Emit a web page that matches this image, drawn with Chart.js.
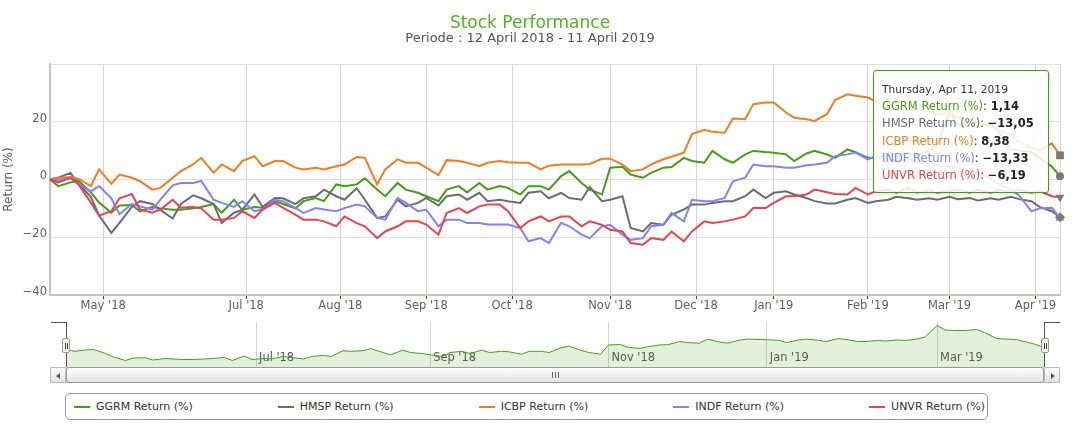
<!DOCTYPE html>
<html>
<head>
<meta charset="utf-8">
<script src="https://cdn.jsdelivr.net/npm/chart.js@4.4.1/dist/chart.umd.min.js"></script>
<style>
html,body{margin:0;padding:0;background:#fff;}
#wrap{position:relative;width:1085px;height:427px;overflow:hidden;font-family:"DejaVu Sans",Verdana,sans-serif;}
#main{position:absolute;left:0;top:0;}
#nav{position:absolute;left:66px;top:322px;}
.abs{position:absolute;}
#tip{position:absolute;display:none;box-sizing:border-box;width:176px;height:123px;background:rgba(255,255,255,0.86);border:1px solid #43a013;border-radius:3px;padding:10px 0 0 8px;color:#333;pointer-events:none;box-shadow:1px 1px 3px rgba(0,0,0,0.12);}
#tip .th{font-size:10.7px;line-height:17px;height:17px;white-space:nowrap;}
#tip .tl{font-size:11.5px;line-height:17.3px;height:17.3px;white-space:nowrap;}
#tip b{color:#222;}
.handle{position:absolute;width:8px;height:15px;background:#f2f2f2;border:1px solid #999;border-radius:2px;box-sizing:border-box;}
.handle:before,.handle:after{content:"";position:absolute;top:4px;width:1px;height:6px;background:#444;}
.handle:before{left:2px;}
.handle:after{left:4px;}
.sbtn{position:absolute;top:367px;width:16px;height:16px;box-sizing:border-box;border:1px solid #bbb;border-radius:2px;background:linear-gradient(#fdfdfd,#e2e2e2);}
.arrowL{position:absolute;left:5px;top:5px;width:0;height:0;border-top:3px solid transparent;border-bottom:3px solid transparent;border-right:4px solid #555;}
.arrowR{position:absolute;left:6px;top:5px;width:0;height:0;border-top:3px solid transparent;border-bottom:3px solid transparent;border-left:4px solid #555;}
#legend{position:absolute;left:65px;top:393px;width:923px;height:27px;box-sizing:border-box;border:1px solid #999;border-radius:5px;display:flex;align-items:center;padding-left:8px;}
.li{display:flex;align-items:center;margin-right:85px;font-size:11px;color:#333;white-space:nowrap;}
.ls{width:16px;height:2px;margin-right:6px;}
</style>
</head>
<body>
<div id="wrap">
  <canvas id="main" width="1085" height="318"></canvas>
  <canvas id="nav" width="978" height="45"></canvas>
  <!-- navigator outline -->
  <div class="abs" style="left:51px;top:322px;width:16px;height:1px;background:#555;"></div>
  <div class="abs" style="left:66px;top:322px;width:1px;height:45px;background:#555;"></div>
  <div class="abs" style="left:1044px;top:322px;width:1px;height:45px;background:#555;"></div>
  <div class="abs" style="left:1044px;top:322px;width:16px;height:1px;background:#555;"></div>
  <div class="handle" style="left:62px;top:338px;"></div>
  <div class="handle" style="left:1041px;top:338px;"></div>
  <!-- scrollbar -->
  <div class="abs" style="left:50px;top:367px;width:1010px;height:16px;box-sizing:border-box;border:1px solid #ccc;background:#f2f2f2;"></div>
  <div class="abs" style="left:66px;top:367px;width:978px;height:16px;box-sizing:border-box;border:1px solid #999;border-radius:3px;background:linear-gradient(#fefefe,#e4e4e4);"></div>
  <div class="abs" style="left:552px;top:372px;width:1px;height:6px;background:#666;"></div>
  <div class="abs" style="left:555px;top:372px;width:1px;height:6px;background:#666;"></div>
  <div class="abs" style="left:558px;top:372px;width:1px;height:6px;background:#666;"></div>
  <div class="sbtn" style="left:50px;"><div class="arrowL"></div></div>
  <div class="sbtn" style="left:1044px;"><div class="arrowR"></div></div>
  <div id="legend"></div>
  <div id="tip"></div>
</div>
<script>
// ---- data ----
const tradingDays = [0,2,5,7,10,12,15,17,20,22,25,27,30,32,35,37,40,42,45,47,50,52,55,57,60,62,65,67,70,72,75,77,80,82,85,87,90,92,95,97,100,102,105,107,110,112,115,117,120,122,125,127,130,132,135,137,140,142,145,147,150,152,155,157,160,162,165,167,170,172,175,177,180,182,185,187,190,192,195,197,200,202,205,207,210,212,215,217,220,222,225,227,230,232,235,237,240,242,245,247];

const ggrmReturn = [0,-2.3,-1.0,-0.5,-4.5,-8.0,-11.5,-9.0,-8.8,-11.0,
 -9.5,-10.0,-10.5,-10.5,-10.0,-9.5,-8.5,-11.5,-7.0,-10.5,
 -9.5,-9.8,-7.5,-8.5,-10.0,-7.5,-6.4,-7.5,-1.7,-2.3,
 -1.7,0.4,-3.5,-5.8,-1.2,-3.5,-4.6,-5.8,-7.5,-3.5,
 -2.3,-4.5,-1.2,-3.5,-2.3,-2.9,-5.2,-2.3,-2.3,-3.5,
 1.2,2.9,-1.2,-3.5,-5.2,4.1,4.4,1.7,0.6,2.3,
 4.1,4.3,7.5,6.4,5.8,9.9,7.0,5.8,8.7,9.9,
 9.5,9.3,8.7,6.4,9.0,9.9,8.7,7.5,10.4,9.5,
 7.5,7.5,8.5,8.0,9.0,8.5,10.0,12.0,23.5,19.0,
 18.5,18.5,19.5,16.5,10.5,10.0,9.5,7.5,4.5,1.14];

const hmspReturn = [0,0.6,2.3,-1.5,-6.0,-12.5,-18.5,-15.0,-9.5,-7.5,
 -8.5,-10.5,-13.5,-8.5,-5.5,-6.5,-8.5,-15.0,-11.5,-10.5,
 -5.2,-9.5,-6.4,-6.5,-8.5,-6.5,-5.8,-3.5,-5.8,-7.0,
 -3.0,-7.0,-13.3,-12.8,-7.0,-9.3,-8.1,-6.4,-9.0,-5.8,
 -5.2,-7.0,-4.6,-7.5,-7.0,-7.5,-8.1,-4.6,-4.1,-6.5,
 -4.6,-6.4,-7.0,-2.6,-7.5,-7.0,-5.8,-16.8,-18.0,-15.1,
 -15.7,-12.2,-10.4,-8.7,-8.7,-8.1,-7.5,-7.5,-5.8,-3.5,
 -6.4,-4.6,-4.1,-5.2,-6.4,-7.5,-8.3,-8.3,-7.0,-6.4,
 -8.1,-7.5,-7.0,-6.0,-6.5,-7.0,-6.5,-7.0,-6.0,-6.8,
 -6.4,-7.3,-6.5,-7.0,-6.0,-6.8,-7.5,-9.5,-11.0,-13.05];

const icbpReturn = [0,0.6,0.9,0.2,-2.3,3.5,-1.5,1.7,0.6,-0.6,
 -3.5,-2.9,0.6,2.9,5.2,7.5,2.3,5.2,2.9,6.4,
 8.1,4.6,6.4,6.4,4.1,3.5,4.1,3.5,4.6,5.2,
 7.8,7.5,-1.7,3.5,7.0,5.8,5.8,4.1,1.5,6.7,
 6.4,5.8,4.6,5.8,6.4,6.0,5.8,5.8,3.5,4.8,
 5.2,5.2,5.2,5.4,7.2,7.2,5.2,2.9,3.5,5.2,
 7.0,7.9,9.3,15.7,17.2,16.5,16.2,21.1,20.9,26.1,
 26.7,26.7,23.2,21.4,20.9,20.3,22.6,27.5,29.5,29.0,
 28.4,27.0,26.0,25.0,24.0,24.5,23.5,22.5,23.0,21.5,
 21.0,19.5,18.5,17.0,15.5,13.0,11.0,10.0,12.5,8.38];

const indfReturn = [0,-0.2,0.6,-1.7,-4.1,-2.3,-6.5,-12.0,-8.5,-9.3,
 -10.4,-7.0,-2.0,-1.2,-1.2,-0.5,-7.0,-8.1,-9.5,-7.5,
 -11.0,-10.4,-7.0,-7.5,-9.8,-11.6,-9.9,-10.4,-11.0,-9.9,
 -8.7,-9.3,-13.3,-13.9,-6.4,-8.1,-11.0,-10.4,-16.2,-13.9,
 -13.9,-15.1,-15.1,-15.6,-15.6,-15.6,-16.8,-21.4,-20.3,-22.0,
 -15.0,-16.2,-19.1,-20.3,-16.2,-15.7,-19.1,-20.9,-20.3,-16.2,
 -15.7,-11.6,-14.5,-7.0,-7.5,-7.5,-6.4,-0.6,0.6,5.2,
 4.6,4.6,4.1,4.1,4.9,5.2,5.8,8.1,8.7,9.3,
 7.0,8.0,7.0,6.5,7.0,6.0,5.5,5.0,4.5,4.0,
 3.0,2.0,0.5,-1.5,-3.5,-5.5,-11.0,-10.0,-9.8,-13.33];

const unvrReturn = [0,-1.0,0.6,-1.7,-8.0,-12.5,-11.0,-6.5,-5.0,-10.4,
 -11.5,-10.4,-7.0,-9.8,-9.5,-10.0,-13.9,-13.9,-13.3,-11.0,
 -13.3,-10.4,-8.1,-9.8,-12.2,-13.9,-13.9,-14.5,-16.2,-12.8,
 -15.1,-16.2,-20.3,-18.0,-16.2,-14.5,-14.5,-15.6,-19.1,-11.6,
 -9.9,-11.6,-9.3,-8.7,-8.7,-11.0,-16.8,-14.5,-12.8,-14.5,
 -12.8,-12.8,-16.2,-14.5,-15.7,-17.4,-18.0,-22.0,-22.6,-20.3,
 -20.9,-18.0,-21.4,-18.0,-14.5,-15.1,-14.5,-13.9,-12.8,-9.9,
 -9.9,-8.1,-5.8,-5.8,-5.2,-3.5,-4.4,-5.0,-5.2,-2.9,
 -5.2,-4.1,-3.5,-4.6,-3.0,-4.5,-3.8,-4.6,-4.0,-3.5,
 -4.6,-3.6,-4.6,-3.6,-4.2,-3.5,-4.6,-4.0,-5.8,-6.19];

const seriesNames = ['GGRM Return (%)','HMSP Return (%)','ICBP Return (%)','INDF Return (%)','UNVR Return (%)'];
const seriesColors = ['#43a013','#6c6c76','#f47b20','#8282fb','#e8444e'];
const seriesMarkers = ['circle','rectRot','rect','triangle','triangle'];
const markerRotation = [0,0,0,0,180];
const markerRadius = [4,5,5.5,5,5];

const monthTickDays = [13,48,71,92,113,137,158,177,200,220,241];
const monthTickLabels = ["May '18","Jul '18","Aug '18","Sep '18","Oct '18","Nov '18","Dec '18","Jan '19","Feb '19","Mar '19","Apr '19"];
const navigatorTickLabels = ["Jul '18","Sep '18","Nov '18","Jan '19","Mar '19"];
const yTicks = [-40,-20,0,20,40];
const titleText = 'Stock Performance';
const subtitleText = 'Periode : 12 April 2018 - 11 April 2019';
const tooltipDate = 'Thursday, Apr 11, 2019';

// ---- build ----
const FONT = '"DejaVu Sans", Verdana, sans-serif';
Chart.defaults.font.family = FONT;
const allValues = [ggrmReturn, hmspReturn, icbpReturn, indfReturn, unvrReturn];
const lastIdx = tradingDays.length - 1;
const xMin = tradingDays[0], xMax = tradingDays[lastIdx];

function fmt(v){ return (v < 0 ? '\u2212' : '') + Math.abs(v).toFixed(2).replace('.', ','); }

const datasets = allValues.map((vals, i) => ({
  label: seriesNames[i],
  data: vals.map((v, j) => ({x: tradingDays[j], y: v})),
  borderColor: seriesColors[i],
  backgroundColor: seriesColors[i],
  borderWidth: 2,
  tension: 0,
  fill: false,
  clip: false,
  order: allValues.length - i,
  pointStyle: seriesMarkers[i],
  pointRotation: markerRotation[i],
  pointRadius: ctx => ctx.dataIndex === lastIdx ? markerRadius[i] : 0,
  pointHoverRadius: ctx => ctx.dataIndex === lastIdx ? markerRadius[i] : 0,
  pointBackgroundColor: '#7a7a7a',
  pointBorderColor: '#7a7a7a',
  pointBorderWidth: 0,
  pointHoverBorderWidth: 0,
  pointHoverBackgroundColor: '#7a7a7a'
}));

function showTip(chart, items, caretX){
  const el = document.getElementById('tip');
  let html = '<div class="th">' + tooltipDate + '</div>';
  items.forEach(it => {
    html += '<div class="tl"><span style="color:' + seriesColors[it.i] + '">' + seriesNames[it.i] + '</span>: <b>' + fmt(it.v) + '</b></div>';
  });
  el.innerHTML = html;
  el.style.borderColor = seriesColors[0];
  el.style.display = 'block';
  el.style.left = (chart.canvas.offsetLeft + caretX - 187) + 'px';
  el.style.top = (chart.canvas.offsetTop + chart.chartArea.top + 6) + 'px';
}

function externalTip(context){
  const {chart, tooltip} = context;
  if (!tooltip || tooltip.opacity === 0 || !tooltip.dataPoints || !tooltip.dataPoints.length) return;
  const items = tooltip.dataPoints.slice().sort((a,b)=>a.datasetIndex-b.datasetIndex)
    .map(p => ({i: p.datasetIndex, v: p.parsed.y}));
  showTip(chart, items, tooltip.caretX);
}

const edgePlugin = {
  id: 'edge',
  beforeDatasetsDraw(chart){
    const {ctx, chartArea} = chart;
    ctx.save();
    ctx.strokeStyle = '#d6d6d6';
    ctx.lineWidth = 1;
    ctx.beginPath();
    ctx.moveTo(Math.round(chartArea.right) + 0.5, chartArea.top);
    ctx.lineTo(Math.round(chartArea.right) + 0.5, chartArea.bottom);
    ctx.stroke();
    ctx.restore();
  }
};

const mainChart = new Chart(document.getElementById('main'), {
  type: 'line',
  data: { datasets },
  options: {
    responsive: false,
    animation: false,
    devicePixelRatio: 1,
    layout: { padding: { left: 0, right: 25, top: 0, bottom: 0 } },
    interaction: { mode: 'index', intersect: false },
    plugins: {
      legend: { display: false },
      title: { display: true, text: titleText, color: '#55b41e', font: { size: 17, weight: 'normal', lineHeight: 1.0 }, padding: { top: 15, bottom: 0 } },
      subtitle: { display: true, text: subtitleText, color: '#555', font: { size: 13, lineHeight: 1.0 }, padding: { top: 0, bottom: 19 } },
      tooltip: { enabled: false, mode: 'index', intersect: false, external: externalTip }
    },
    scales: {
      x: {
        type: 'linear', min: xMin, max: xMax,
        afterBuildTicks: sc => { sc.ticks = monthTickDays.map(v => ({ value: v })); },
        afterFit: sc => { sc.height = 23; },
        ticks: {
          autoSkip: false, maxRotation: 0, minRotation: 0, padding: 0, color: '#606060', font: { size: 11.5 },
          callback: v => { const k = monthTickDays.indexOf(v); return k >= 0 ? monthTickLabels[k] : ''; }
        },
        grid: { color: '#d4d4d4', lineWidth: 1, drawTicks: true, tickLength: 4, tickColor: '#d40000', tickWidth: 1 },
        border: { display: true, color: '#c4c4c4', width: 2 }
      },
      y: {
        min: yTicks[0], max: yTicks[yTicks.length - 1],
        afterBuildTicks: sc => { sc.ticks = yTicks.map(v => ({ value: v })); },
        afterFit: sc => { sc.width = 50; },
        ticks: {
          padding: 3, labelOffset: -3, color: '#606060', font: { size: 11.5 },
          callback: v => v === yTicks[yTicks.length - 1] ? '' : (v < 0 ? '\u2212' + Math.abs(v) : String(v))
        },
        grid: { color: '#e0e0e0', lineWidth: 1, drawTicks: false },
        border: { display: true, color: '#c4c4c4', width: 2 },
        title: { display: true, text: 'Return (%)', color: '#606060', font: { size: 12 }, padding: { top: 2, bottom: 0 } }
      }
    }
  },
  plugins: [edgePlugin]
});

// activate tooltip at the last trading day
(function(){
  const active = datasets.map((d, i) => ({ datasetIndex: i, index: lastIdx }));
  try {
    mainChart.setActiveElements(active);
    mainChart.tooltip.setActiveElements(active, { x: mainChart.scales.x.getPixelForValue(xMax), y: mainChart.chartArea.top + 20 });
    mainChart.update();
  } catch (e) {}
  if (document.getElementById('tip').style.display !== 'block') {
    showTip(mainChart, allValues.map((vals, i) => ({ i, v: vals[lastIdx] })), mainChart.scales.x.getPixelForValue(xMax));
  }
})();

// ---- navigator ----
const navTickDays = navigatorTickLabels.map(l => monthTickDays[monthTickLabels.indexOf(l)]);
const navLabelPlugin = {
  id: 'navLabels',
  beforeDatasetsDraw(chart){
    const {ctx, scales} = chart;
    ctx.save();
    ctx.font = '11.4px ' + FONT;
    ctx.fillStyle = '#555';
    ctx.textBaseline = 'middle';
    ctx.textAlign = 'left';
    navTickDays.forEach((d, k) => {
      ctx.fillText(navigatorTickLabels[k], scales.x.getPixelForValue(d) + 3, 36);
    });
    ctx.restore();
  }
};
new Chart(document.getElementById('nav'), {
  type: 'line',
  data: { datasets: [{
    data: ggrmReturn.map((v, j) => ({ x: tradingDays[j], y: v })),
    borderColor: seriesColors[0], borderWidth: 1, pointRadius: 0, tension: 0,
    fill: 'start', backgroundColor: 'rgba(67,160,19,0.15)'
  }]},
  options: {
    responsive: false, animation: false, devicePixelRatio: 1,
    layout: { padding: 0 },
    plugins: { legend: { display: false }, tooltip: { enabled: false } },
    events: [],
    scales: {
      x: {
        type: 'linear', min: xMin, max: xMax,
        afterBuildTicks: sc => { sc.ticks = navTickDays.map(v => ({ value: v })); },
        ticks: { display: false },
        grid: { color: '#d4d4d4', drawTicks: false },
        border: { display: false }
      },
      y: { display: false, min: -18, max: 27 }
    }
  },
  plugins: [navLabelPlugin]
});

// ---- legend ----
const legend = document.getElementById('legend');
seriesNames.forEach((name, i) => {
  const item = document.createElement('div');
  item.className = 'li';
  const sym = document.createElement('div');
  sym.className = 'ls';
  sym.style.background = seriesColors[i];
  const txt = document.createElement('span');
  txt.textContent = name;
  item.appendChild(sym);
  item.appendChild(txt);
  legend.appendChild(item);
});
</script>
</body>
</html>
